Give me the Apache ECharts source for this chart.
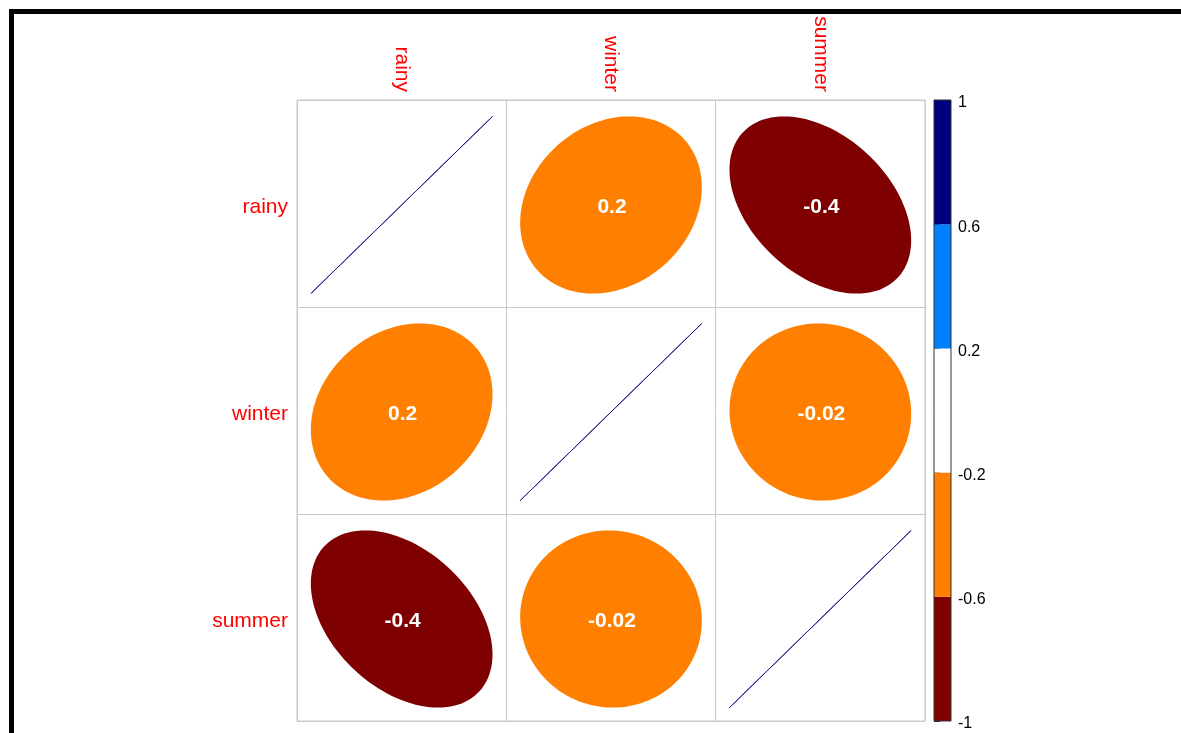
<!DOCTYPE html>
<html>
<head>
<meta charset="utf-8">
<script src="https://cdn.jsdelivr.net/npm/echarts@6/dist/echarts.min.js"></script>
<style>
html,body{margin:0;padding:0;background:#fff;}
#chart{width:1181px;height:733px;}
</style>
</head>
<body>
<div id="chart"></div>
<script>
// ---- data ----
const variables = ['rainy', 'winter', 'summer'];
const corrRainy  = [1, 0.2, -0.4];
const corrWinter = [0.2, 1, -0.02];
const corrSummer = [-0.4, -0.02, 1];
const legendTickLabels = ['-1', '-0.6', '-0.2', '0.2', '0.6', '1'];
const legendBins = [0, 1, 2, 3, 4];

// ---- build ----
const corrRows = [corrRainy, corrWinter, corrSummer];
const cells = [];
corrRows.forEach((row, i) => row.forEach((v, j) => cells.push([j, i, v])));

const binColors = ['#7F0000', '#FF7F00', '#FFFFFF', '#007FFF', '#00007F'];
function fillFor(v) {
  if (v >= 0.6) return binColors[4];
  if (v > -0.3) return binColors[1];
  return binColors[0];
}
function fmt(v) { return String(v); }

const chart = echarts.init(document.getElementById('chart'), null, {renderer: 'canvas'});
const FONT = '"Liberation Sans", Arial, sans-serif';

const option = {
  backgroundColor: '#fff',
  animation: false,
  graphic: [
    {type: 'rect', shape: {x: 9, y: 9, width: 5, height: 724}, style: {fill: '#000'}, z: 100},
    {type: 'rect', shape: {x: 9, y: 9, width: 1172, height: 5}, style: {fill: '#000'}, z: 100}
  ],
  grid: [
    {left: 297, top: 100, width: 628, height: 621, show: true, borderColor: '#C8C8C8', borderWidth: 1, backgroundColor: 'transparent'},
    {left: 934, top: 100, width: 17, height: 621, show: false}
  ],
  xAxis: [
    {
      gridIndex: 0, type: 'category', data: variables, position: 'top',
      axisLine: {show: false}, axisTick: {show: false},
      axisLabel: {rotate: 90, color: '#FF0000', fontSize: 21, fontFamily: FONT, margin: 8},
      splitLine: {show: true, lineStyle: {color: '#C8C8C8', width: 1}}
    },
    {gridIndex: 1, type: 'value', min: 0, max: 5, show: false}
  ],
  yAxis: [
    {
      gridIndex: 0, type: 'category', data: variables, inverse: true,
      axisLine: {show: false}, axisTick: {show: false},
      axisLabel: {
        color: '#FF0000', fontSize: 21, fontFamily: FONT, margin: 9,
        formatter: (v) => '{a|' + v + '}',
        rich: {a: {color: '#FF0000', fontSize: 21, fontFamily: FONT, padding: [7, 0, 0, 0]}}
      },
      splitLine: {show: true, lineStyle: {color: '#C8C8C8', width: 1}}
    },
    {
      gridIndex: 1, type: 'value', min: 0, max: 5, interval: 1, position: 'right',
      axisLine: {show: true, lineStyle: {color: '#555', width: 1}},
      axisTick: {show: true, length: 6, lineStyle: {color: '#333'}},
      axisLabel: {
        show: true, color: '#000', fontSize: 16, fontFamily: FONT, margin: 7,
        showMinLabel: true, showMaxLabel: true,
        formatter: (v) => '{a|' + legendTickLabels[Math.round(v)] + '}',
        rich: {a: {color: '#000', fontSize: 16, fontFamily: FONT, padding: [6, 0, 0, 0]}}
      },
      splitLine: {show: false}
    }
  ],
  series: [
    {
      type: 'custom', xAxisIndex: 0, yAxisIndex: 0, data: cells,
      renderItem: function (params, api) {
        const c = api.coord([api.value(0), api.value(1)]);
        const s = api.size([1, 1]);
        const v = api.value(2);
        const hx = s[0] * 0.434, hy = s[1] * 0.428;
        const cy = c[1] + 1.5;
        const d = Math.acos(Math.max(-1, Math.min(1, v)));
        const pts = [];
        const n = 120;
        for (let k = 0; k <= n; k++) {
          const t = 2 * Math.PI * k / n;
          pts.push([c[0] + Math.cos(t + d / 2) * hx, cy - Math.cos(t - d / 2) * hy]);
        }
        if (v >= 0.999) {
          return {type: 'polyline', shape: {points: pts}, style: {stroke: '#1a1a8c', lineWidth: 1, fill: null}};
        }
        return {
          type: 'group',
          children: [
            {type: 'polygon', shape: {points: pts}, style: {fill: fillFor(v), stroke: null}},
            {type: 'text', x: c[0] + 1, y: c[1] + 4, style: {
              text: fmt(v), fill: '#fff', font: 'bold 21px ' + FONT,
              align: 'center', verticalAlign: 'middle'
            }}
          ]
        };
      }
    },
    {
      type: 'custom', xAxisIndex: 1, yAxisIndex: 1, data: legendBins,
      renderItem: function (params, api) {
        const i = api.value(0);
        const p0 = api.coord([0, i]);
        const p1 = api.coord([5, i + 1]);
        return {
          type: 'rect',
          shape: {x: p0[0], y: p1[1], width: p1[0] - p0[0], height: p0[1] - p1[1]},
          style: {fill: binColors[i], stroke: null}
        };
      },
      encode: {y: 0}
    },
    {
      type: 'custom', xAxisIndex: 1, yAxisIndex: 1, data: [[0]],
      renderItem: function (params, api) {
        const p0 = api.coord([0, 0]);
        const p1 = api.coord([5, 5]);
        return {
          type: 'rect', z2: 10,
          shape: {x: p0[0], y: p1[1], width: p1[0] - p0[0], height: p0[1] - p1[1]},
          style: {fill: null, stroke: '#333', lineWidth: 1}
        };
      }
    }
  ]
};
chart.setOption(option);
</script>
</body>
</html>
